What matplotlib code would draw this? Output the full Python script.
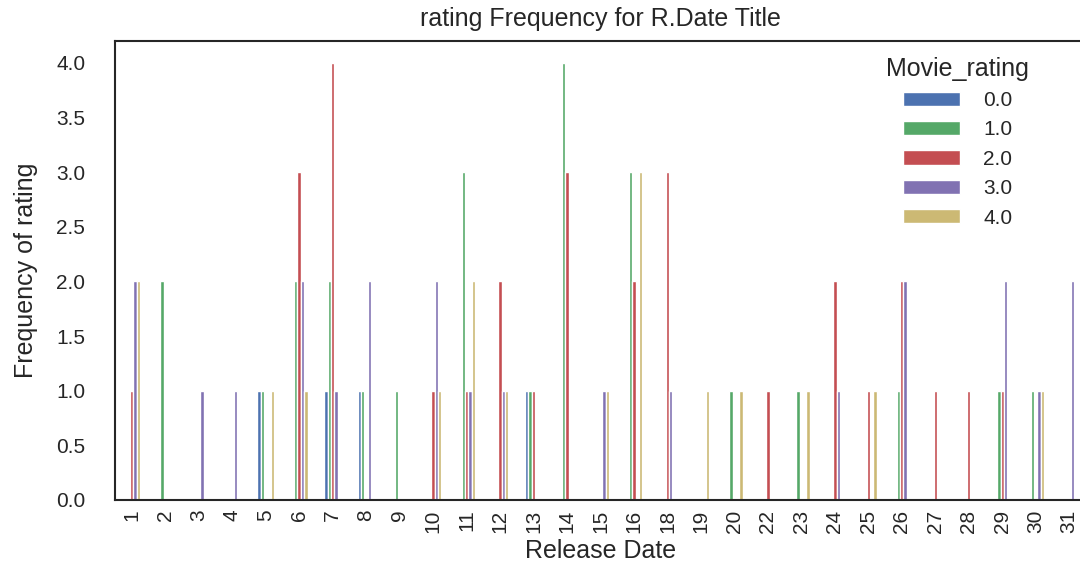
import pandas as pd
import matplotlib
matplotlib.use('Agg')
import matplotlib.pyplot as plt
import seaborn as sns

# release day of month vs counts per movie rating
days = ['1', '2', '3', '4', '5', '6', '7', '8', '9', '10', '11', '12', '13', '14', '15',
        '16', '18', '19', '20', '22', '23', '24', '25', '26', '27', '28', '29', '30', '31']
rating_0 = [0, 0, 0, 0, 1, 0, 1, 1, 0, 0, 0, 0, 1, 0, 0, 0, 0, 0, 0, 0, 0, 0, 0, 0, 0, 0, 0, 0, 0]
rating_1 = [0, 2, 0, 0, 1, 2, 2, 1, 1, 0, 3, 0, 1, 4, 0, 3, 0, 0, 1, 0, 1, 0, 0, 1, 0, 0, 1, 1, 0]
rating_2 = [1, 0, 0, 0, 0, 3, 4, 0, 0, 1, 1, 2, 1, 3, 0, 2, 3, 0, 0, 1, 0, 2, 1, 2, 1, 1, 1, 0, 0]
rating_3 = [2, 0, 1, 1, 0, 2, 1, 2, 0, 2, 1, 1, 0, 0, 1, 0, 1, 0, 0, 0, 0, 1, 0, 2, 0, 0, 2, 1, 2]
rating_4 = [2, 0, 0, 0, 1, 1, 0, 0, 0, 1, 2, 1, 0, 0, 1, 3, 0, 1, 1, 0, 1, 0, 1, 0, 0, 0, 0, 1, 0]
ratings = ['0.0', '1.0', '2.0', '3.0', '4.0']

df = pd.DataFrame({'0.0': rating_0, '1.0': rating_1, '2.0': rating_2,
                   '3.0': rating_3, '4.0': rating_4}, index=days)
df.columns.name = 'Movie_rating'

sns.set_style('white')
plt.rcParams['font.family'] = ['Liberation Sans', 'DejaVu Sans']
plt.rcParams['axes.edgecolor'] = '.15'
plt.rcParams['axes.linewidth'] = 1.5

colors = ['#4C72B0', '#55A868', '#C44E52', '#8172B2', '#CCB974']

fig = plt.figure(figsize=(10.8, 5.67), dpi=100)
ax = fig.add_axes([0.1065, 0.1182, 0.899, 0.8095])
df.plot(kind='bar', ax=ax, color=colors)

ax.set_title('rating Frequency for R.Date Title', fontsize=18, color='.15', pad=11)
ax.set_xlabel('Release Date', fontsize=18, color='.15', labelpad=4)
ax.set_ylabel('Frequency of rating', fontsize=18, color='.15')
ax.yaxis.set_label_coords(-0.079, 0.5)
ax.tick_params(axis='both', labelsize=15, colors='.15')
ax.tick_params(axis='y', pad=18)
ax.set_yticks([0, 0.5, 1, 1.5, 2, 2.5, 3, 3.5, 4])
ax.set_yticklabels(['0.0', '0.5', '1.0', '1.5', '2.0', '2.5', '3.0', '3.5', '4.0'])

leg = ax.legend(title='Movie_rating', loc='upper center', bbox_to_anchor=(0.868, 1.007),
                frameon=False, fontsize=15, title_fontsize=18, labelspacing=0.5,
                handlelength=2.75, handleheight=0.67, handletextpad=1.1)

fig.savefig('out.png', dpi=100)
